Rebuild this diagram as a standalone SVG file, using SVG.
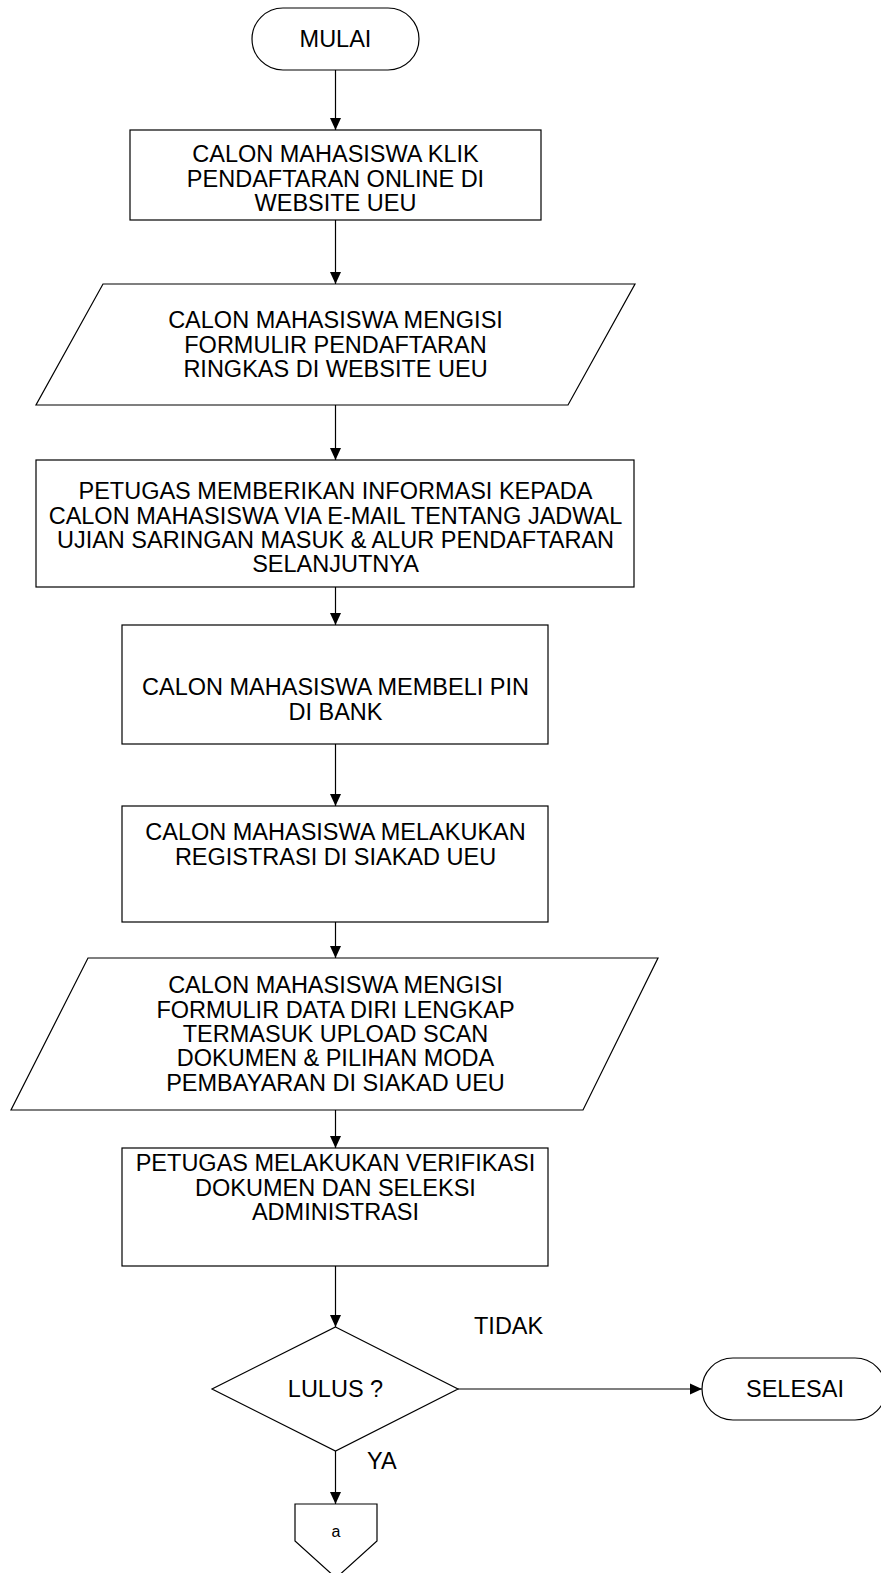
<svg xmlns="http://www.w3.org/2000/svg" width="881" height="1573" viewBox="0 0 881 1573">
<style>
.s{fill:#fff;stroke:#000;stroke-width:1.2}
.t{font-family:"Liberation Sans",Arial,sans-serif;font-size:23.5px;fill:#000;text-anchor:middle}
.l{fill:none;stroke:#000;stroke-width:1.2}
</style>
<defs>
<marker id="ah" markerWidth="12" markerHeight="12" viewBox="0 0 12 12" refX="12" refY="6" orient="auto" markerUnits="userSpaceOnUse">
<path d="M0,0.5 L12,6 L0,11.5 Z" fill="#000"/>
</marker>
</defs>
<rect width="881" height="1573" fill="#fff"/>
<g id="connectors">
<line class="l" x1="335.5" y1="70" x2="335.5" y2="130" marker-end="url(#ah)"/>
<line class="l" x1="335.5" y1="220" x2="335.5" y2="284" marker-end="url(#ah)"/>
<line class="l" x1="335.5" y1="405" x2="335.5" y2="460" marker-end="url(#ah)"/>
<line class="l" x1="335.5" y1="587" x2="335.5" y2="625" marker-end="url(#ah)"/>
<line class="l" x1="335.5" y1="744" x2="335.5" y2="806" marker-end="url(#ah)"/>
<line class="l" x1="335.5" y1="922" x2="335.5" y2="958" marker-end="url(#ah)"/>
<line class="l" x1="335.5" y1="1110" x2="335.5" y2="1148" marker-end="url(#ah)"/>
<line class="l" x1="335.5" y1="1266" x2="335.5" y2="1327" marker-end="url(#ah)"/>
<line class="l" x1="458" y1="1389" x2="702" y2="1389" marker-end="url(#ah)"/>
<line class="l" x1="335.5" y1="1451" x2="335.5" y2="1504" marker-end="url(#ah)"/>
<text class="t" style="text-anchor:start" x="474" y="1334">TIDAK</text>
<text class="t" style="text-anchor:start" x="367" y="1469">YA</text>
</g>
<g id="mulai">
<rect class="s" x="252" y="8" width="167" height="62" rx="31"/>
<text class="t" x="335.5" y="47">MULAI</text>
</g>
<g id="klik">
<rect class="s" x="130" y="130" width="411" height="90"/>
<text class="t" x="335.5" y="162.4">CALON MAHASISWA KLIK</text>
<text class="t" x="335.5" y="186.7">PENDAFTARAN ONLINE DI</text>
<text class="t" x="335.5" y="211">WEBSITE UEU</text>
</g>
<g id="isi-ringkas">
<polygon class="s" points="103,284 635,284 568,405 36,405"/>
<text class="t" x="335.5" y="328.4">CALON MAHASISWA MENGISI</text>
<text class="t" x="335.5" y="352.7">FORMULIR PENDAFTARAN</text>
<text class="t" x="335.5" y="377">RINGKAS DI WEBSITE UEU</text>
</g>
<g id="info">
<rect class="s" x="36" y="460" width="598" height="127"/>
<text class="t" x="335.5" y="499.4">PETUGAS MEMBERIKAN INFORMASI KEPADA</text>
<text class="t" x="335.5" y="523.7">CALON MAHASISWA VIA E-MAIL TENTANG JADWAL</text>
<text class="t" x="335.5" y="548">UJIAN SARINGAN MASUK &amp; ALUR PENDAFTARAN</text>
<text class="t" x="335.5" y="572.3">SELANJUTNYA</text>
</g>
<g id="pin">
<rect class="s" x="122" y="625" width="426" height="119"/>
<text class="t" x="335.5" y="695.4">CALON MAHASISWA MEMBELI PIN</text>
<text class="t" x="335.5" y="719.7">DI BANK</text>
</g>
<g id="registrasi">
<rect class="s" x="122" y="806" width="426" height="116"/>
<text class="t" x="335.5" y="840.4">CALON MAHASISWA MELAKUKAN</text>
<text class="t" x="335.5" y="864.7">REGISTRASI DI SIAKAD UEU</text>
</g>
<g id="isi-lengkap">
<polygon class="s" points="88,958 658,958 583,1110 11,1110"/>
<text class="t" x="335.5" y="993.4">CALON MAHASISWA MENGISI</text>
<text class="t" x="335.5" y="1017.7">FORMULIR DATA DIRI LENGKAP</text>
<text class="t" x="335.5" y="1042">TERMASUK UPLOAD SCAN</text>
<text class="t" x="335.5" y="1066.3">DOKUMEN &amp; PILIHAN MODA</text>
<text class="t" x="335.5" y="1090.6">PEMBAYARAN DI SIAKAD UEU</text>
</g>
<g id="verifikasi">
<rect class="s" x="122" y="1148" width="426" height="118"/>
<text class="t" x="335.5" y="1171.4">PETUGAS MELAKUKAN VERIFIKASI</text>
<text class="t" x="335.5" y="1195.7">DOKUMEN DAN SELEKSI</text>
<text class="t" x="335.5" y="1220">ADMINISTRASI</text>
</g>
<g id="lulus">
<polygon class="s" points="335.5,1327 458,1389 335.5,1451 212,1389"/>
<text class="t" x="335.5" y="1397.4">LULUS ?</text>
</g>
<g id="selesai">
<rect class="s" x="702" y="1358" width="184" height="62" rx="31"/>
<text class="t" x="795" y="1397">SELESAI</text>
</g>
<g id="connector-a">
<polygon class="s" points="295,1504 377,1504 377,1541 336,1578 295,1541"/>
<text class="t" style="font-size:16px" x="336" y="1537">a</text>
</g>
</svg>
